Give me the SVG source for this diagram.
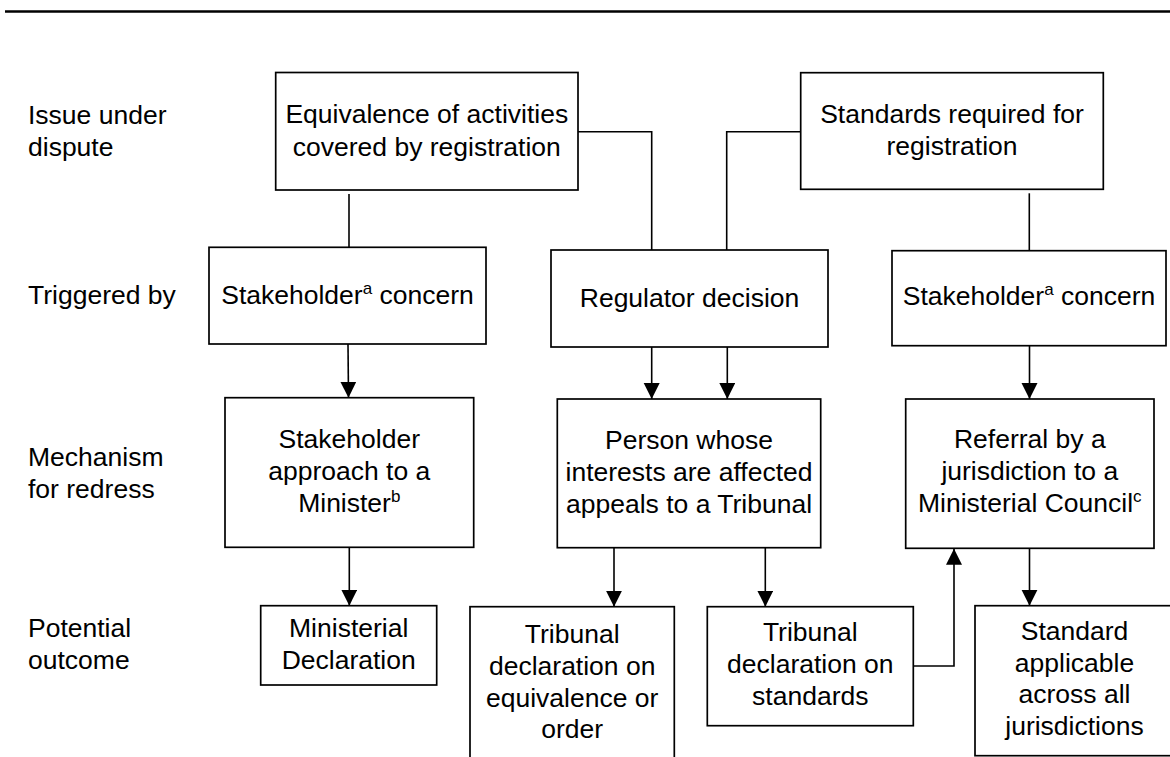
<svg xmlns="http://www.w3.org/2000/svg" width="1170" height="757" viewBox="0 0 1170 757">
<style>
text{font-family:"Liberation Sans",Arial,sans-serif;font-size:26.5px;fill:#000}
.c{text-anchor:middle}
.box{fill:#fff;stroke:#000;stroke-width:1.7}
.ln{fill:none;stroke:#000;stroke-width:1.6}
.sup{font-size:17px}
</style>
<defs>
<marker id="ah" markerUnits="userSpaceOnUse" markerWidth="18" markerHeight="18" refX="16" refY="8" orient="auto">
<path d="M0,0 L16,8 L0,16 z" fill="#000"/>
</marker>
</defs>
<rect width="1170" height="757" fill="#fff"/>
<line x1="5" y1="11.5" x2="1170" y2="11.5" stroke="#000" stroke-width="2.5"/>

<g id="labels">
<text x="28" y="124">Issue under</text>
<text x="28" y="156">dispute</text>
<text x="28" y="304">Triggered by</text>
<text x="28" y="466">Mechanism</text>
<text x="28" y="498">for redress</text>
<text x="28" y="637">Potential</text>
<text x="28" y="669">outcome</text>
</g>

<g id="connectors">
<line class="ln" x1="349" y1="194" x2="349" y2="249"/>
<polyline class="ln" points="578,131.7 651.7,131.7 651.7,250"/>
<polyline class="ln" points="800.7,131.7 726.7,131.7 726.7,250"/>
<line class="ln" x1="1029.3" y1="193.3" x2="1029.3" y2="250"/>
<line class="ln" x1="348" y1="344" x2="348.5" y2="397.7" marker-end="url(#ah)"/>
<line class="ln" x1="651.7" y1="347" x2="651.7" y2="399" marker-end="url(#ah)"/>
<line class="ln" x1="727.3" y1="347" x2="727.3" y2="399" marker-end="url(#ah)"/>
<line class="ln" x1="1029.5" y1="346" x2="1029.5" y2="399" marker-end="url(#ah)"/>
<line class="ln" x1="349.3" y1="547.3" x2="349.3" y2="605.7" marker-end="url(#ah)"/>
<line class="ln" x1="614" y1="548" x2="614" y2="606.7" marker-end="url(#ah)"/>
<line class="ln" x1="765.3" y1="548" x2="765.3" y2="606.7" marker-end="url(#ah)"/>
<line class="ln" x1="1029.5" y1="548.3" x2="1029.5" y2="605.7" marker-end="url(#ah)"/>
<polyline class="ln" points="913.3,666 954,666 954,548.8" marker-end="url(#ah)"/>
</g>

<g id="n-equivalence">
<rect class="box" x="275.7" y="72.5" width="302.3" height="117.5"/>
<text class="c" x="426.8" y="123.3">Equivalence of activities</text>
<text class="c" x="426.8" y="156">covered by registration</text>
</g>

<g id="n-standards">
<rect class="box" x="800.7" y="72.7" width="302.6" height="116.6"/>
<text class="c" x="952" y="122.7">Standards required for</text>
<text class="c" x="952" y="155">registration</text>
</g>

<g id="n-stakeholder-left">
<rect class="box" x="209" y="247.3" width="277" height="96.7"/>
<text class="c" x="347.5" y="304">Stakeholder<tspan class="sup" dy="-10">a</tspan><tspan dy="10"> concern</tspan></text>
</g>

<g id="n-regulator">
<rect class="box" x="551" y="250" width="277" height="97"/>
<text class="c" x="689.5" y="306.7">Regulator decision</text>
</g>

<g id="n-stakeholder-right">
<rect class="box" x="892" y="250.7" width="274" height="95"/>
<text class="c" x="1029" y="305">Stakeholder<tspan class="sup" dy="-10">a</tspan><tspan dy="10"> concern</tspan></text>
</g>

<g id="n-minister">
<rect class="box" x="225" y="397.7" width="248.7" height="149.6"/>
<text class="c" x="349.3" y="448.3">Stakeholder</text>
<text class="c" x="349.3" y="480">approach to a</text>
<text class="c" x="349.3" y="511.7">Minister<tspan class="sup" dy="-10">b</tspan></text>
</g>

<g id="n-appeal">
<rect class="box" x="557.3" y="399" width="263.4" height="148.7"/>
<text class="c" x="689" y="449.3">Person whose</text>
<text class="c" x="689" y="480.7">interests are affected</text>
<text class="c" x="689" y="512.7">appeals to a Tribunal</text>
</g>

<g id="n-referral">
<rect class="box" x="905.7" y="399" width="248.3" height="149.3"/>
<text class="c" x="1029.8" y="448.3">Referral by a</text>
<text class="c" x="1029.8" y="480">jurisdiction to a</text>
<text class="c" x="1029.8" y="512.3">Ministerial Council<tspan class="sup" dy="-10">c</tspan></text>
</g>

<g id="n-ministerial-declaration">
<rect class="box" x="260.7" y="605.7" width="176" height="79.3"/>
<text class="c" x="348.7" y="636.7">Ministerial</text>
<text class="c" x="348.7" y="669.3">Declaration</text>
</g>

<g id="n-tribunal-equivalence">
<rect class="box" x="470" y="606.7" width="204.3" height="170"/>
<text class="c" x="572.2" y="643.3">Tribunal</text>
<text class="c" x="572.2" y="675">declaration on</text>
<text class="c" x="572.2" y="706.7">equivalence or</text>
<text class="c" x="572.2" y="738.3">order</text>
</g>

<g id="n-tribunal-standards">
<rect class="box" x="707.3" y="606.7" width="206" height="119"/>
<text class="c" x="810.3" y="641">Tribunal</text>
<text class="c" x="810.3" y="673.3">declaration on</text>
<text class="c" x="810.3" y="705">standards</text>
</g>

<g id="n-standard-applicable">
<rect class="box" x="975" y="605.7" width="210" height="150"/>
<text class="c" x="1074.5" y="640">Standard</text>
<text class="c" x="1074.5" y="671.7">applicable</text>
<text class="c" x="1074.5" y="703.3">across all</text>
<text class="c" x="1074.5" y="735">jurisdictions</text>
</g>
</svg>
